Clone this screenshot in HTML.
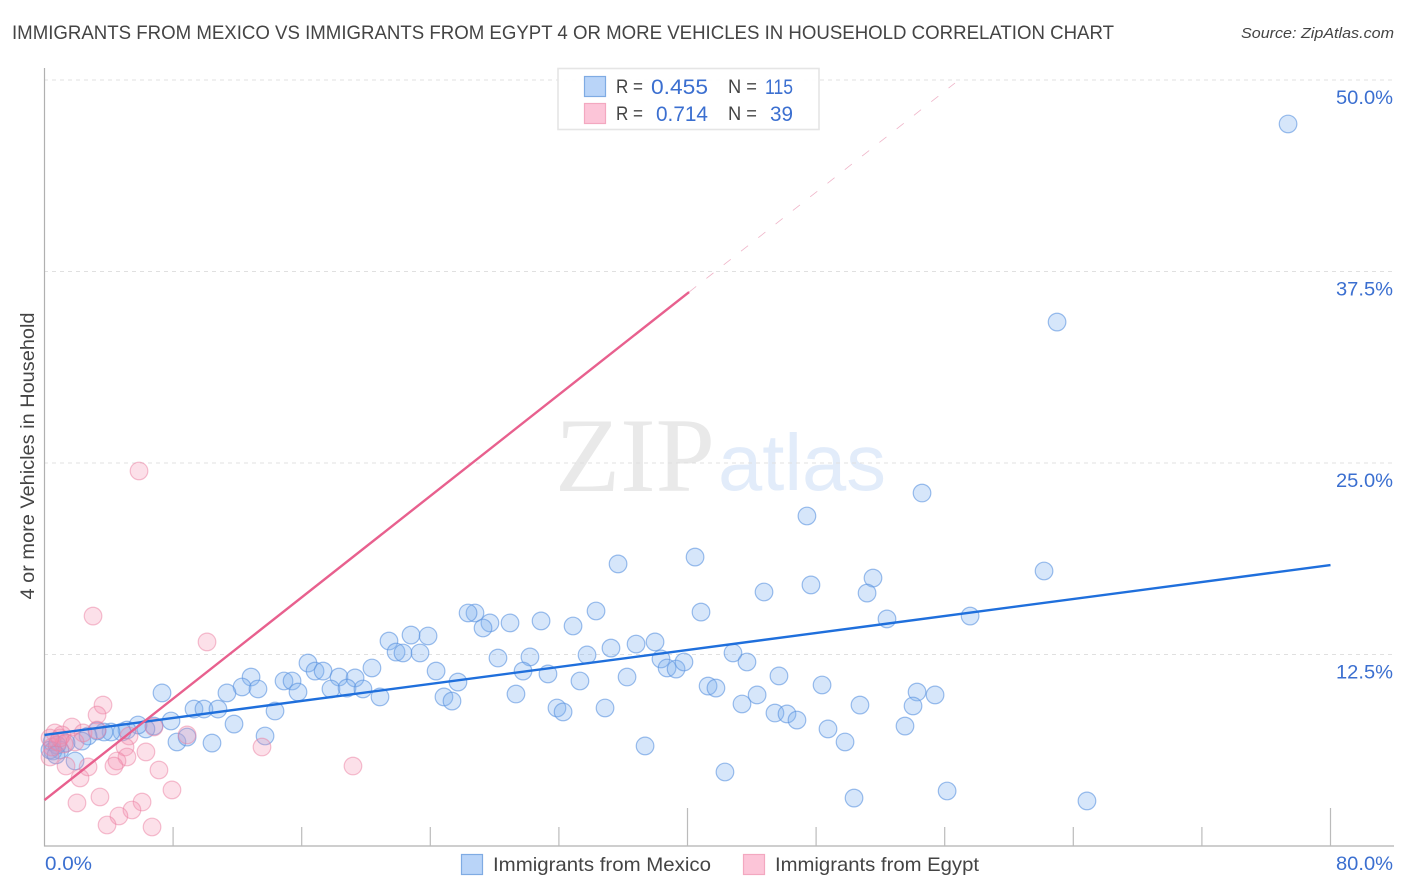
<!DOCTYPE html>
<html lang="en">
<head>
<meta charset="utf-8">
<title>Immigrants from Mexico vs Immigrants from Egypt Correlation Chart</title>
<style>
html,body{margin:0;padding:0;background:#fff;width:1406px;height:892px;overflow:hidden}
svg{display:block;font-family:"Liberation Sans",sans-serif}
</style>
</head>
<body>
<svg id="chart" xmlns="http://www.w3.org/2000/svg" width="1406" height="892" viewBox="0 0 1406 892">
  <rect x="0" y="0" width="1406" height="892" fill="#ffffff"/>
  <text x="12" y="39" font-size="19.5" fill="#444444" textLength="1102" lengthAdjust="spacingAndGlyphs">IMMIGRANTS FROM MEXICO VS IMMIGRANTS FROM EGYPT 4 OR MORE VEHICLES IN HOUSEHOLD CORRELATION CHART</text>
  <text x="1241" y="38" font-size="15" font-style="italic" fill="#444444" textLength="153" lengthAdjust="spacingAndGlyphs">Source: ZipAtlas.com</text>

  <g>
    <text x="555" y="491" font-family="'Liberation Serif',serif" font-size="106" fill="#e9e9e9" textLength="160" lengthAdjust="spacingAndGlyphs">ZIP</text>
    <text x="718" y="490" font-size="80" fill="#e2ecfa" textLength="168" lengthAdjust="spacingAndGlyphs">atlas</text>
  </g>

  <g id="grid"></g>
  <g id="axes"></g>
  <g id="ylabels"></g>
  <g id="xlabels"></g>

  <text transform="translate(34,456) rotate(-90)" text-anchor="middle" font-size="19" fill="#444444" textLength="287" lengthAdjust="spacingAndGlyphs">4 or more Vehicles in Household</text>

  <g id="points-mexico"></g>
  <g id="points-egypt"></g>
  <g id="trends"></g>

  <g>
    <rect x="558" y="68.5" width="261" height="61" fill="#ffffff" fill-opacity="0.9" stroke="#e5e5e5" stroke-width="1.6"/>
    <rect x="584.5" y="76.5" width="21" height="20" fill="#b9d4f8" stroke="#7fabe3" stroke-width="1.2"/>
    <rect x="584.5" y="103.5" width="21" height="20" fill="#fcc5d8" stroke="#f3a8c0" stroke-width="1.2"/>
    <text x="616" y="93" font-size="19" fill="#444444" textLength="27" lengthAdjust="spacingAndGlyphs">R =</text>
    <text x="651" y="94" font-size="21" fill="#3b6fd0" textLength="57" lengthAdjust="spacingAndGlyphs">0.455</text>
    <text x="728" y="93" font-size="19" fill="#444444" textLength="29" lengthAdjust="spacingAndGlyphs">N =</text>
    <text x="765" y="94" font-size="21" fill="#3b6fd0" textLength="28" lengthAdjust="spacingAndGlyphs">115</text>
    <text x="616" y="120" font-size="19" fill="#444444" textLength="27" lengthAdjust="spacingAndGlyphs">R =</text>
    <text x="656" y="121" font-size="21" fill="#3b6fd0" textLength="52" lengthAdjust="spacingAndGlyphs">0.714</text>
    <text x="728" y="120" font-size="19" fill="#444444" textLength="29" lengthAdjust="spacingAndGlyphs">N =</text>
    <text x="770" y="121" font-size="21" fill="#3b6fd0" textLength="23" lengthAdjust="spacingAndGlyphs">39</text>
  </g>

  <g>
    <g>
      <rect x="461.5" y="854.5" width="21" height="20" fill="#b9d4f8" stroke="#7fabe3" stroke-width="1.2"/>
      <text x="493" y="871" font-size="19.5" fill="#444444" textLength="218" lengthAdjust="spacingAndGlyphs">Immigrants from Mexico</text>
    </g>
    <g>
      <rect x="743.5" y="854.5" width="21" height="20" fill="#fcc5d8" stroke="#f3a8c0" stroke-width="1.2"/>
      <text x="775" y="871" font-size="19.5" fill="#444444" textLength="204" lengthAdjust="spacingAndGlyphs">Immigrants from Egypt</text>
    </g>
  </g>
</svg>

<script>
const mexicoX = [77.36,62.99,54.59,47.43,40.47,35.68,47.68,44.76,51.54,51.17,62.18,57.58,52.41,40.84,34.31,30.89,32.88,28.96,27.71,27.28,26.78,26.35,23.86,22.80,21.43,21.87,22.30,23.36,36.80,37.98,35.24,33.75,28.21,30.20,20.37,16.39,16.83,17.33,18.32,19.32,42.83,43.70,38.35,38.73,39.29,39.78,45.69,36.24,33.31,31.32,29.77,24.36,25.72,12.85,14.90,15.40,12.29,13.28,15.77,17.82,18.82,19.81,20.87,24.85,25.35,29.33,41.28,41.77,48.37,44.33,43.39,54.28,55.40,50.73,54.03,34.87,31.88,32.26,45.44,46.19,46.81,48.74,53.53,49.80,37.36,42.33,50.36,56.15,64.85,7.31,11.35,9.30,9.92,10.79,14.34,7.87,11.79,13.72,10.42,8.24,8.87,6.81,6.31,5.82,5.13,4.82,4.14,3.70,3.27,2.71,2.33,1.90,1.34,0.96,0.47,0.53,0.78,0.34,0.72];
const mexicoY = [47.13,34.20,23.04,21.54,18.86,18.41,17.04,16.58,17.49,16.51,17.95,15.01,14.82,15.27,15.34,14.69,14.36,14.56,14.56,14.23,15.21,15.21,13.71,13.77,13.38,12.66,12.60,12.60,13.18,13.32,12.92,12.47,12.27,12.34,11.62,11.94,11.42,11.42,11.03,10.97,12.60,12.01,12.21,11.62,11.55,12.01,11.10,11.03,10.77,11.23,11.42,11.42,10.70,11.03,10.77,10.77,10.38,10.25,10.05,10.25,10.31,10.25,9.73,9.73,9.46,9.92,10.44,10.31,10.51,9.86,9.27,10.05,9.86,9.20,9.14,9.01,9.01,8.75,8.68,8.62,8.22,7.64,7.83,6.79,6.53,4.83,3.13,3.59,2.94,9.99,9.99,8.94,8.94,8.94,8.81,8.16,7.96,7.18,6.72,6.79,7.11,7.83,7.64,7.90,7.57,7.44,7.44,7.44,7.51,7.18,6.85,5.55,6.72,6.27,6.79,6.20,6.59,6.27,5.94];
const egyptX = [5.88,3.02,10.11,3.64,3.27,1.71,0.65,1.09,2.40,3.27,5.26,6.81,8.87,13.53,5.01,6.31,5.13,4.51,4.32,2.71,1.34,2.21,7.12,19.19,7.93,3.45,2.02,6.07,5.44,4.63,3.89,6.69,0.34,0.47,0.84,1.21,0.96,0.34,1.90];
const egyptY = [24.48,15.01,13.32,9.20,8.55,7.77,7.38,7.25,7.38,7.57,7.18,7.77,7.25,6.46,6.46,6.14,5.81,5.55,5.22,5.16,5.22,4.44,4.96,5.22,3.66,3.20,2.81,2.87,2.35,1.96,1.37,1.24,5.81,6.46,6.79,6.66,7.05,7.05,6.79];
const mexicoTrendX = [0, 80];
const mexicoTrendY = [7.25, 18.34];
const egyptTrendX = [0, 40.1];
const egyptTrendY = [3.0, 36.16];
const egyptDashX = [40.1, 56.64];
const egyptDashY = [36.16, 49.8];
const yTicks = [12.5, 25, 37.5, 50];
const yTickLabels = ["12.5%", "25.0%", "37.5%", "50.0%"];
const xTicks = [8, 16, 24, 32, 40, 48, 56, 64, 72, 80];
const xMajorTicks = [40, 80];
const xEndLabels = ["0.0%", "80.0%"];

const NS = "http://www.w3.org/2000/svg";
const sx = v => 44.5 + v * 16.075;
const sy = v => 846 - v * 15.32;
function make(tag, attrs, parent) {
  const el = document.createElementNS(NS, tag);
  for (const k in attrs) el.setAttribute(k, attrs[k]);
  parent.appendChild(el);
  return el;
}

const grid = document.getElementById("grid");
yTicks.forEach(t => {
  const l = make("line", {x1: 44, x2: 1394, y1: sy(t), y2: sy(t), stroke: "#e0e0e0", "stroke-width": 1, "stroke-dasharray": "4 4"}, grid);
  
  
});

const axes = document.getElementById("axes");
const yAxis = make("line", {x1: 44.5, x2: 44.5, y1: 68, y2: 846.5, stroke: "#b0b0b0", "stroke-width": 1.2}, axes);


const xAxis = make("line", {x1: 44, x2: 1394, y1: 846, y2: 846, stroke: "#b0b0b0", "stroke-width": 1.2}, axes);


xTicks.forEach(t => {
  const top = xMajorTicks.includes(t) ? 808 : 827;
  const l = make("line", {x1: sx(t), x2: sx(t), y1: top, y2: 846, stroke: "#bbbbbb", "stroke-width": 1.2}, axes);
  
  
});

const ylabels = document.getElementById("ylabels");
yTicks.forEach((t, i) => {
  const tx = make("text", {x: 1336, y: sy(t) + 24, "font-size": 19, fill: "#3b6fd0", textLength: 57, lengthAdjust: "spacingAndGlyphs"}, ylabels);
  
  
  tx.textContent = yTickLabels[i];
});

const xlabels = document.getElementById("xlabels");
const x0 = make("text", {x: 45, y: 870, "font-size": 19, fill: "#3b6fd0", textLength: 47, lengthAdjust: "spacingAndGlyphs"}, xlabels);


x0.textContent = xEndLabels[0];
const x1 = make("text", {x: 1336, y: 870, "font-size": 19, fill: "#3b6fd0", textLength: 57, lengthAdjust: "spacingAndGlyphs"}, xlabels);


x1.textContent = xEndLabels[1];

const groupMexico = document.getElementById("points-mexico");
mexicoX.forEach((v, i) => {
  const c = make("circle", {cx: sx(v), cy: sy(mexicoY[i]), r: 8.8, fill: "#7fb0f0", "fill-opacity": 0.32, stroke: "#5a93e0", "stroke-opacity": 0.6, "stroke-width": 1.2}, groupMexico);
  
  
});

const groupEgypt = document.getElementById("points-egypt");
egyptX.forEach((v, i) => {
  const c = make("circle", {cx: sx(v), cy: sy(egyptY[i]), r: 8.8, fill: "#f590b0", "fill-opacity": 0.28, stroke: "#ec7fa2", "stroke-opacity": 0.5, "stroke-width": 1.2}, groupEgypt);
  
  
});

const trends = document.getElementById("trends");
const tm = make("line", {x1: sx(mexicoTrendX[0]), y1: sy(mexicoTrendY[0]), x2: sx(mexicoTrendX[1]), y2: sy(mexicoTrendY[1]), stroke: "#1f6fdc", "stroke-width": 2.4}, trends);


const te = make("line", {x1: sx(egyptTrendX[0]), y1: sy(egyptTrendY[0]), x2: sx(egyptTrendX[1]), y2: sy(egyptTrendY[1]), stroke: "#e8608e", "stroke-width": 2.4}, trends);


const td = make("line", {x1: sx(egyptDashX[0]), y1: sy(egyptDashY[0]), x2: sx(egyptDashX[1]), y2: sy(egyptDashY[1]), stroke: "#efb4c8", "stroke-width": 0.8, "stroke-dasharray": "9 13"}, trends);


</script>
</body>
</html>
